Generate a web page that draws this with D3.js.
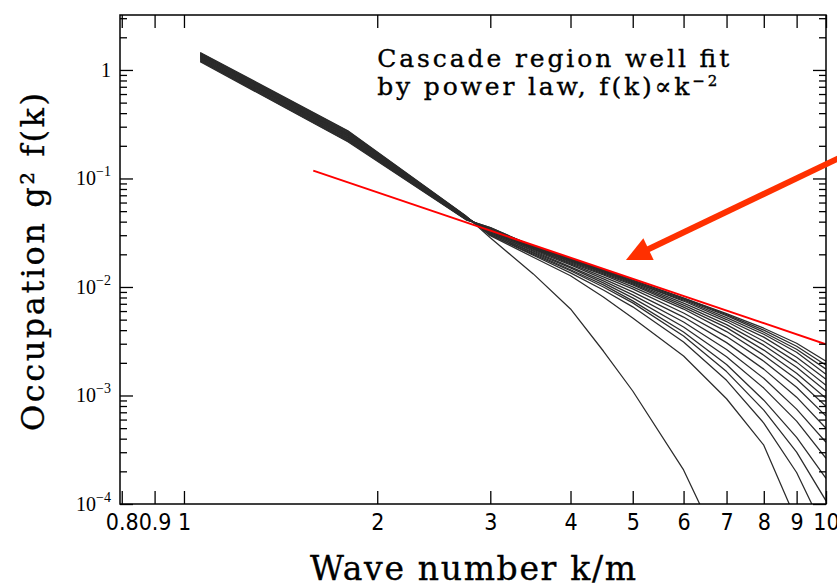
<!DOCTYPE html>
<html>
<head>
<meta charset="utf-8">
<script src="https://cdn.jsdelivr.net/npm/d3@7"></script>
<style>
  html, body { margin: 0; padding: 0; background: #fff; }
  svg { display: block; }
  .axis path { display: none; }
  .axis line { stroke: #000; stroke-width: 1.3; }
  .xlab text { font-family: "Liberation Sans Narrow", "DejaVu Sans Condensed", "Liberation Sans", sans-serif; font-size: 23px; fill: #000; }
  .ylab { font-family: "Liberation Serif", serif; font-size: 20px; fill: #000; }
  .title { font-family: "DejaVu Serif", serif; fill: #000; stroke: #000; stroke-width: 0.35; }
</style>
</head>
<body>
<svg id="chart" width="837" height="587"></svg>
<script>
// wave numbers k/m where the snapshots were read
const kGrid = [1.06, 1.8, 2.75, 3, 3.5, 4, 4.5, 5, 6, 7, 8, 9, 10];

// occupation g^2 f(k), one snapshot per array, earliest first
const snap01 = [1.45, 0.275, 0.0450, 0.0284, 0.0132, 0.00627, 0.00257, 0.00110, 0.000206, 0.00003];
const snap02 = [1.43, 0.272, 0.0448, 0.0297, 0.0188, 0.0127, 0.00810, 0.00519, 0.00231, 0.000933, 0.000348, 0.0000697, 0.0000107];
const snap03 = [1.42, 0.268, 0.0446, 0.0303, 0.0196, 0.0135, 0.00939, 0.00656, 0.00311, 0.00138, 0.000557, 0.000195, 0.0000535];
const snap04 = [1.40, 0.265, 0.0444, 0.0303, 0.0200, 0.0141, 0.0100, 0.00714, 0.00353, 0.00166, 0.000733, 0.000301, 0.000107];
const snap05 = [1.39, 0.261, 0.0442, 0.0310, 0.0205, 0.0144, 0.01045, 0.00745, 0.00384, 0.00193, 0.000905, 0.000411, 0.000172];
const snap06 = [1.37, 0.258, 0.0440, 0.0310, 0.0209, 0.0150, 0.0109, 0.00794, 0.00427, 0.00228, 0.00117, 0.000580, 0.000264];
const snap07 = [1.36, 0.255, 0.0438, 0.0316, 0.0214, 0.0153, 0.01137, 0.00846, 0.00475, 0.00265, 0.00144, 0.000749, 0.000371];
const snap08 = [1.34, 0.251, 0.0436, 0.0316, 0.0218, 0.0160, 0.01187, 0.00902, 0.00528, 0.00307, 0.00175, 0.000965, 0.000499];
const snap09 = [1.33, 0.248, 0.0434, 0.0323, 0.0223, 0.01635, 0.01238, 0.00961, 0.00575, 0.00349, 0.00207, 0.00119, 0.000645];
const snap10 = [1.31, 0.245, 0.0432, 0.0323, 0.0223, 0.01669, 0.01292, 0.01003, 0.00626, 0.00388, 0.00235, 0.00141, 0.000796];
const snap11 = [1.30, 0.241, 0.0430, 0.0330, 0.0227, 0.01706, 0.01319, 0.01047, 0.00653, 0.00422, 0.00262, 0.00160, 0.000944];
const snap12 = [1.28, 0.238, 0.0428, 0.0330, 0.0227, 0.0174, 0.01348, 0.01068, 0.00681, 0.00450, 0.00291, 0.00182, 0.00110];
const snap13 = [1.27, 0.235, 0.0426, 0.0337, 0.0227, 0.01741, 0.01376, 0.01092, 0.00711, 0.00480, 0.00316, 0.00203, 0.00124];
const snap14 = [1.25, 0.231, 0.0424, 0.0337, 0.0232, 0.0178, 0.01376, 0.01114, 0.00742, 0.00501, 0.00345, 0.00225, 0.00141];
const snap15 = [1.24, 0.228, 0.0422, 0.0344, 0.0232, 0.0178, 0.01405, 0.01114, 0.00758, 0.00522, 0.00367, 0.00250, 0.00157];
const snap16 = [1.22, 0.225, 0.0420, 0.0344, 0.0237, 0.0182, 0.01405, 0.01138, 0.00774, 0.00545, 0.00383, 0.00267, 0.00175];
const snap17 = [1.21, 0.221, 0.0418, 0.0352, 0.0237, 0.0182, 0.0144, 0.0116, 0.00790, 0.00557, 0.00400, 0.00284, 0.00190];
const snap18 = [1.19, 0.218, 0.0416, 0.0352, 0.0237, 0.0182, 0.0144, 0.0116, 0.00790, 0.00568, 0.00417, 0.00303, 0.00207];

const snapshots = [snap01, snap02, snap03, snap04, snap05, snap06, snap07, snap08, snap09,
    snap10, snap11, snap12, snap13, snap14, snap15, snap16, snap17, snap18];

// power law fit, f(k) ~ k^-2
const fitK = [1.59, 10];
const fitF = [0.118, 0.00297];

// arrow pointing at the cascade region (tail, tip)
const arrowK = [11, 4.88];
const arrowF = [0.177, 0.01774];

// ticks
const xTicks = [0.8, 0.9, 1, 2, 3, 4, 5, 6, 7, 8, 9, 10];
const xTickLabels = ["0.8", "0.9", "1", "2", "3", "4", "5", "6", "7", "8", "9", "10"];
const yDecades = [1, 1e-1, 1e-2, 1e-3, 1e-4];
const yDecadeExp = [0, -1, -2, -3, -4];

// set dimensions
const width = 837,
    height = 587,
    margin = { top: 15, right: 11, bottom: 83, left: 120 };

const svg = d3.select("#chart");

const x = d3.scaleLog().domain([0.795, 10]).range([margin.left, width - margin.right]);
const y = d3.scaleLog().domain([1e-4, 3.21]).range([height - margin.bottom, margin.top]);

const x0 = margin.left, x1 = width - margin.right;
const y0 = height - margin.bottom, y1 = margin.top;

svg.append("clipPath").attr("id", "plot-clip")
    .append("rect")
    .attr("x", x0).attr("y", y1)
    .attr("width", x1 - x0).attr("height", y0 - y1);

const line = d3.line().x(d => x(d[0])).y(d => y(d[1]));

// snapshots
svg.append("g")
    .attr("clip-path", "url(#plot-clip)")
    .selectAll("path")
    .data(snapshots)
    .enter()
    .append("path")
    .attr("d", s => line(s.map((v, i) => [kGrid[i], v])))
    .attr("fill", "none")
    .attr("stroke", "#2b2b2b")
    .attr("stroke-width", 1.25)
    .attr("stroke-linejoin", "round");

// power law fit
svg.append("path")
    .attr("clip-path", "url(#plot-clip)")
    .attr("d", line(fitK.map((k, i) => [k, fitF[i]])))
    .attr("fill", "none")
    .attr("stroke", "#ff0000")
    .attr("stroke-width", 2);

// axes (ticks pointing inward)
const yMinor = y.ticks().filter(v => !yDecades.some(d => Math.abs(v / d - 1) < 1e-6));

svg.append("g").attr("class", "axis xlab")
    .attr("transform", `translate(0,${y0})`)
    .call(d3.axisBottom(x).tickValues(xTicks).tickSize(-13).tickPadding(10)
        .tickFormat((d, i) => xTickLabels[i]));

svg.append("g").attr("class", "axis")
    .attr("transform", `translate(0,${y1})`)
    .call(d3.axisTop(x).tickValues(xTicks).tickSize(-13).tickFormat(""));

svg.append("g").attr("class", "axis")
    .attr("transform", `translate(${x0},0)`)
    .call(d3.axisLeft(y).tickValues(yDecades).tickSize(-13).tickFormat(""));
svg.append("g").attr("class", "axis")
    .attr("transform", `translate(${x0},0)`)
    .call(d3.axisLeft(y).tickValues(yMinor).tickSize(-7).tickFormat(""));
svg.append("g").attr("class", "axis")
    .attr("transform", `translate(${x1},0)`)
    .call(d3.axisRight(y).tickValues(yDecades).tickSize(-13).tickFormat(""));
svg.append("g").attr("class", "axis")
    .attr("transform", `translate(${x1},0)`)
    .call(d3.axisRight(y).tickValues(yMinor).tickSize(-7).tickFormat(""));

// frame
svg.append("rect")
    .attr("x", x0).attr("y", y1)
    .attr("width", x1 - x0).attr("height", y0 - y1)
    .attr("fill", "none")
    .attr("stroke", "#000")
    .attr("stroke-width", 1.5);

// y tick labels, 10^n
const ylab = svg.append("g").selectAll("text")
    .data(yDecades)
    .enter()
    .append("text")
    .attr("class", "ylab")
    .attr("text-anchor", "end")
    .attr("x", x0 - 9)
    .attr("y", d => y(d) + 7);
ylab.each(function (d, i) {
    const t = d3.select(this);
    if (yDecadeExp[i] === 0) {
        t.text("1");
    } else {
        t.append("tspan").text("10");
        t.append("tspan").attr("font-size", 14).attr("dy", -9).text("\u2212" + (-yDecadeExp[i]));
    }
});

// arrow
const tail = [x(arrowK[0]), y(arrowF[0])];
const tip = [x(arrowK[1]), y(arrowF[1])];
const len = Math.hypot(tip[0] - tail[0], tip[1] - tail[1]);
const ux = (tip[0] - tail[0]) / len, uy = (tip[1] - tail[1]) / len;
const headL = 25, headW = 12;
const base = [tip[0] - ux * headL, tip[1] - uy * headL];
svg.append("line")
    .attr("x1", tail[0]).attr("y1", tail[1])
    .attr("x2", base[0] + ux * 2).attr("y2", base[1] + uy * 2)
    .attr("stroke", "#ff3000")
    .attr("stroke-width", 6);
svg.append("path")
    .attr("d", `M${tip[0]},${tip[1]}L${base[0] - uy * headW},${base[1] + ux * headW}L${base[0] + uy * headW},${base[1] - ux * headW}Z`)
    .attr("fill", "#ff3000");

// annotation
svg.append("text").attr("class", "title")
    .attr("x", x(2.0)).attr("y", y(1.07))
    .attr("font-size", 25)
    .attr("textLength", 352).attr("lengthAdjust", "spacing")
    .text("Cascade region well fit");
const note2 = svg.append("text").attr("class", "title")
    .attr("x", x(2.0)).attr("y", y(0.585))
    .attr("font-size", 25)
    .attr("textLength", 340).attr("lengthAdjust", "spacing");
note2.append("tspan").text("by power law, f(k)\u221Dk");
note2.append("tspan").attr("font-size", 15).attr("dy", -9).text("\u2212" + "2");

// axis titles
svg.append("text").attr("class", "title")
    .attr("x", (x0 + x1) / 2).attr("y", 580)
    .attr("text-anchor", "middle")
    .attr("font-size", 33)
    .attr("textLength", 326).attr("lengthAdjust", "spacing")
    .text("Wave number k/m");

svg.append("text").attr("class", "title")
    .attr("transform", "translate(44,262) rotate(-90)")
    .attr("text-anchor", "middle")
    .attr("font-size", 32)
    .attr("textLength", 338).attr("lengthAdjust", "spacing")
    .text("Occupation g\u00B2 f(k)");
</script>
</body>
</html>
